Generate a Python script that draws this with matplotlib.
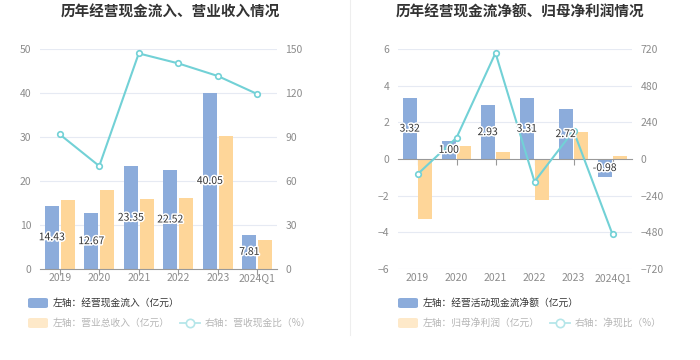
import matplotlib
matplotlib.use('Agg')
import matplotlib.pyplot as plt
import matplotlib.patheffects as pe
from matplotlib.patches import FancyBboxPatch
from matplotlib.lines import Line2D
import numpy as np

plt.rcParams['font.family'] = ['Noto Sans CJK SC', 'DejaVu Sans']

years = ['2019', '2020', '2021', '2022', '2023', '2024Q1']

# left chart
cash_in = [14.43, 12.67, 23.35, 22.52, 40.05, 7.81]       # 经营现金流入 (亿元)
revenue = [15.7, 18.0, 15.9, 16.1, 30.3, 6.5]              # 营业总收入 (亿元)
cash_ratio = [91.8, 70.2, 147.0, 140.2, 131.6, 119.3]      # 营收现金比 (%)

# right chart
net_cash = [3.32, 1.00, 2.93, 3.31, 2.72, -0.98]           # 经营活动现金流净额 (亿元)
net_profit = [-3.27, 0.71, 0.40, -2.24, 1.47, 0.18]        # 归母净利润 (亿元)
net_ratio = [-100, 139, 694, -148, 185, -493]              # 净现比 (%)

BLUE = '#8cacdb'
ORANGE = '#fed699'
CYAN = '#72d1d6'
GRID = '#e6eaf3'
TICK = '#8c8c8c'

W, H = 700, 360
fig = plt.figure(figsize=(7, 3.6), dpi=100)

def px(x0, y0, x1, y1):
    return [x0 / W, 1 - y1 / H, (x1 - x0) / W, (y1 - y0) / H]

def draw(rect, bars1, bars2, line, ylim, yticks, ylim2, yticks2, title, tx):
    ax = fig.add_axes(rect)
    x = np.arange(len(years))
    ax.set_xlim(-0.5, len(years) - 0.5)
    ax.set_ylim(*ylim)
    ax.set_yticks(yticks)
    for t in yticks:
        if t != 0:
            ax.axhline(t, color=GRID, lw=0.8, zorder=0)
    ax.bar(x - 0.2, bars1, width=0.35, color=BLUE, zorder=2)
    ax.bar(x + 0.2, bars2, width=0.35, color=ORANGE, zorder=2)
    for s in ['left', 'right', 'top']:
        ax.spines[s].set_visible(False)
    ax.spines['bottom'].set_color('#999999')
    ax.spines['bottom'].set_position(('data', 0))
    ax.set_xticks(x)
    ax.tick_params(axis='x', length=4, color='#999999', labelbottom=False)
    ax.tick_params(axis='y', length=0, labelsize=7.5, labelcolor=TICK, pad=6)
    sec = ax.secondary_xaxis('bottom')
    sec.set_xticks(x, years)
    sec.spines['bottom'].set_visible(False)
    sec.tick_params(length=0, labelsize=7.5, labelcolor=TICK, pad=3)

    ax2 = ax.twinx()
    ax2.set_ylim(*ylim2)
    ax2.set_yticks(yticks2)
    ax2.plot(x, line, color=CYAN, lw=1.5, marker='o', markersize=4,
             markerfacecolor='white', markeredgecolor=CYAN, markeredgewidth=1.2, zorder=4)
    for s in ['left', 'right', 'top', 'bottom']:
        ax2.spines[s].set_visible(False)
    ax2.tick_params(axis='y', length=0, labelsize=7.5, labelcolor=TICK, pad=6)
    # value labels above the line, positioned in the bar axis' data space
    for xi, v in zip(x, bars1):
        ax2.text(xi - 0.2, v / 2, f'{v:.2f}', ha='center', va='center', fontsize=7.5,
                 color='#333333', zorder=5, transform=ax.transData,
                 path_effects=[pe.withStroke(linewidth=2.2, foreground='white')])
    fig.text(tx / W, 1 - 12 / H, title, ha='center', va='center', fontsize=10.5,
             fontweight='bold', color='#333333')

draw(px(40, 49, 277, 269), cash_in, revenue, cash_ratio, (0, 50), range(0, 51, 10),
     (0, 150), range(0, 151, 30), '历年经营现金流入、营业收入情况', 170)
draw(px(398, 49, 632, 269), net_cash, net_profit, net_ratio, (-6, 6), range(-6, 7, 2),
     (-720, 720), range(-720, 721, 240), '历年经营现金流净额、归母净利润情况', 520)

# separator
fig.add_artist(Line2D([350 / W, 350 / W], [1, 1 - 335 / H], color='#eeeeee', lw=0.8))

def patch(x0, yc, color):
    fig.add_artist(FancyBboxPatch((x0 / W, 1 - (yc + 5) / H), 20 / W, 10 / H,
                                  boxstyle='round,pad=0,rounding_size=0.004',
                                  transform=fig.transFigure, color=color, lw=0))

def legend(x0, labels, lx, ltext):
    patch(x0, 303, BLUE)
    fig.text((x0 + 25) / W, 1 - 303 / H, labels[0], fontsize=7, color='#333333', va='center')
    patch(x0, 323, '#fee9c9')
    fig.text((x0 + 25) / W, 1 - 323 / H, labels[1], fontsize=7, color='#b5b5b5', va='center')
    fig.add_artist(Line2D([lx / W, (lx + 20) / W], [1 - 323 / H] * 2, color='#b5e6e9', lw=1.3))
    fig.add_artist(Line2D([(lx + 10) / W], [1 - 323 / H], color='#b5e6e9', marker='o',
                          markersize=6, markerfacecolor='white', markeredgewidth=1.2, lw=0))
    fig.text((lx + 25) / W, 1 - 323 / H, ltext, fontsize=7, color='#b5b5b5', va='center')

legend(28, ['左轴：经营现金流入（亿元）', '左轴：营业总收入（亿元）'], 180, '右轴：营收现金比（%）')
legend(398, ['左轴：经营活动现金流净额（亿元）', '左轴：归母净利润（亿元）'], 550, '右轴：净现比（%）')

fig.savefig('out.png', dpi=100)
